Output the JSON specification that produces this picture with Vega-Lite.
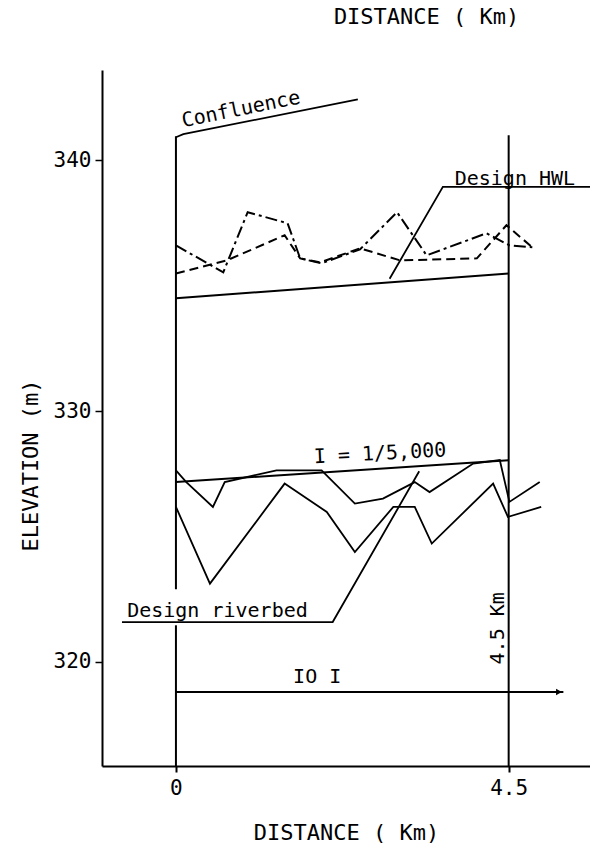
{
  "$schema": "https://vega.github.io/schema/vega-lite/v6.json",
  "autosize": {"type": "none"},
  "width": 488,
  "height": 696,
  "padding": {"left": 102, "top": 70, "right": 0, "bottom": 83},
  "background": "white",
  "config": {"view": {"stroke": null}},
  "datasets": {
    "verts": [
      {"x": 0, "y": 340.96, "y2": 322.9},
      {"x": 0, "y": 321.46, "y2": 315.85},
      {"x": 4.5, "y": 341.0, "y2": 315.85}
    ],
    "conf": [{"x": 0, "y": 340.92}, {"x": 0.1, "y": 341.04}, {"x": 2.46, "y": 342.43}],
    "hwl": [{"x": 0, "y": 334.5}, {"x": 4.5, "y": 335.49}],
    "bed": [{"x": 0, "y": 327.17}, {"x": 4.5, "y": 328.04}],
    "wl1": [
      {"x": 0, "y": 336.61}, {"x": 0.64, "y": 335.53}, {"x": 0.97, "y": 337.93},
      {"x": 1.51, "y": 337.49}, {"x": 1.68, "y": 336.09}, {"x": 1.97, "y": 335.89},
      {"x": 2.49, "y": 336.45}, {"x": 2.99, "y": 337.93}, {"x": 3.39, "y": 336.21},
      {"x": 4.2, "y": 337.09}, {"x": 4.51, "y": 336.61}, {"x": 4.82, "y": 336.53}
    ],
    "wl2": [
      {"x": 0, "y": 335.49}, {"x": 0.69, "y": 336.01}, {"x": 1.47, "y": 337.01},
      {"x": 1.68, "y": 336.09}, {"x": 1.95, "y": 335.93}, {"x": 2.49, "y": 336.49},
      {"x": 3.03, "y": 336.01}, {"x": 4.07, "y": 336.09}, {"x": 4.47, "y": 337.41},
      {"x": 4.82, "y": 336.53}
    ],
    "rb1": [
      {"x": 0, "y": 327.64}, {"x": 0.14, "y": 327.17}, {"x": 0.5, "y": 326.18},
      {"x": 0.66, "y": 327.17}, {"x": 1.36, "y": 327.64}, {"x": 1.97, "y": 327.64},
      {"x": 2.42, "y": 326.31}, {"x": 2.8, "y": 326.51}, {"x": 3.23, "y": 327.17},
      {"x": 3.43, "y": 326.77}, {"x": 4.02, "y": 327.91}, {"x": 4.38, "y": 328.05},
      {"x": 4.51, "y": 326.38}, {"x": 4.92, "y": 327.17}
    ],
    "rb2": [
      {"x": 0, "y": 326.18}, {"x": 0.46, "y": 323.12}, {"x": 1.47, "y": 327.11},
      {"x": 2.04, "y": 325.98}, {"x": 2.42, "y": 324.38}, {"x": 2.94, "y": 326.18},
      {"x": 3.23, "y": 326.18}, {"x": 3.46, "y": 324.72}, {"x": 4.29, "y": 327.11},
      {"x": 4.49, "y": 325.78}, {"x": 4.94, "y": 326.18}
    ],
    "leadHwl": [{"x": 2.89, "y": 335.28}, {"x": 3.61, "y": 338.94}, {"x": 5.6, "y": 338.94}],
    "leadBed": [{"x": -0.73, "y": 321.59}, {"x": 2.12, "y": 321.59}, {"x": 3.29, "y": 327.6}],
    "arrow": [{"x": 0, "y": 318.8}, {"x": 5.24, "y": 318.8}],
    "arrowHead": [{"x": 5.18, "y": 318.8}],
    "txtConf": [{"x": 0.88, "y": 342.03, "label": "Confluence"}],
    "txtLeft": [
      {"x": 3.77, "y": 339.0, "label": "Design  HWL"},
      {"x": -0.66, "y": 321.78, "label": "Design  riverbed"}
    ],
    "txtSlope": [{"x": 2.76, "y": 328.3, "label": "I = 1/5,000"}],
    "txtKm": [{"x": 4.36, "y": 321.34, "label": "4.5 Km"}],
    "txtIO": [{"x": 1.91, "y": 319.39, "label": "IO I"}],
    "txtTop": [{"x": 3.39, "y": 345.45, "label": "DISTANCE ( Km)"}]
  },
  "encoding": {
    "x": {
      "field": "x", "type": "quantitative",
      "scale": {"domain": [-1, 5.6], "nice": false, "zero": false},
      "axis": {
        "values": [0, 4.5], "format": ".1~f", "title": "DISTANCE ( Km)", "grid": false,
        "domainColor": "black", "domainWidth": 2, "tickColor": "black", "tickWidth": 2, "tickSize": 6,
        "labelFont": "DejaVu Sans Mono", "labelFontSize": 21, "labelColor": "black", "labelPadding": 5,
        "titleFont": "DejaVu Sans Mono", "titleFontSize": 22, "titleFontWeight": "normal", "titleColor": "black",
        "titleY": 66, "titleBaseline": "middle"
      }
    },
    "y": {
      "field": "y", "type": "quantitative",
      "scale": {"domain": [315.85, 343.6], "nice": false, "zero": false},
      "axis": {
        "values": [320, 330, 340], "title": "ELEVATION  (m)", "grid": false,
        "domainColor": "black", "domainWidth": 2, "tickColor": "black", "tickWidth": 1.5, "tickSize": 7,
        "labelFont": "DejaVu Sans Mono", "labelFontSize": 21, "labelColor": "black", "labelPadding": 4,
        "titleFont": "DejaVu Sans Mono", "titleFontSize": 22, "titleFontWeight": "normal", "titleColor": "black",
        "titleX": -72, "titleY": 395, "titleBaseline": "middle", "titleAlign": "center", "titleAngle": -90
      }
    }
  },
  "layer": [
    {"data": {"name": "verts"}, "mark": {"type": "rule", "color": "black", "strokeWidth": 2}, "encoding": {"y2": {"field": "y2"}}},
    {"data": {"name": "conf"}, "mark": {"type": "line", "color": "black", "strokeWidth": 1.8}},
    {"data": {"name": "hwl"}, "mark": {"type": "line", "color": "black", "strokeWidth": 2}},
    {"data": {"name": "bed"}, "mark": {"type": "line", "color": "black", "strokeWidth": 2}},
    {"data": {"name": "wl1"}, "mark": {"type": "line", "color": "black", "strokeWidth": 2, "strokeDash": [12, 4, 3, 4]}},
    {"data": {"name": "wl2"}, "mark": {"type": "line", "color": "black", "strokeWidth": 2, "strokeDash": [9, 5]}},
    {"data": {"name": "rb1"}, "mark": {"type": "line", "color": "black", "strokeWidth": 1.8}},
    {"data": {"name": "rb2"}, "mark": {"type": "line", "color": "black", "strokeWidth": 1.8}},
    {"data": {"name": "leadHwl"}, "mark": {"type": "line", "color": "black", "strokeWidth": 1.8}},
    {"data": {"name": "leadBed"}, "mark": {"type": "line", "color": "black", "strokeWidth": 1.8}},
    {"data": {"name": "arrow"}, "mark": {"type": "line", "color": "black", "strokeWidth": 1.8}},
    {"data": {"name": "arrowHead"}, "mark": {"type": "point", "shape": "triangle-right", "filled": true, "color": "black", "size": 45, "opacity": 1}},
    {"data": {"name": "txtConf"}, "mark": {"type": "text", "font": "DejaVu Sans Mono", "fontSize": 20, "angle": -11.5, "align": "center", "baseline": "middle", "color": "black"}, "encoding": {"text": {"field": "label"}}},
    {"data": {"name": "txtLeft"}, "mark": {"type": "text", "font": "DejaVu Sans Mono", "fontSize": 20, "align": "left", "baseline": "alphabetic", "color": "black"}, "encoding": {"text": {"field": "label"}}},
    {"data": {"name": "txtSlope"}, "mark": {"type": "text", "font": "DejaVu Sans Mono", "fontSize": 20, "angle": -3, "align": "center", "baseline": "middle", "color": "black"}, "encoding": {"text": {"field": "label"}}},
    {"data": {"name": "txtKm"}, "mark": {"type": "text", "font": "DejaVu Sans Mono", "fontSize": 20, "angle": -90, "align": "center", "baseline": "middle", "color": "black"}, "encoding": {"text": {"field": "label"}}},
    {"data": {"name": "txtIO"}, "mark": {"type": "text", "font": "DejaVu Sans Mono", "fontSize": 20, "align": "center", "baseline": "middle", "color": "black"}, "encoding": {"text": {"field": "label"}}},
    {"data": {"name": "txtTop"}, "mark": {"type": "text", "font": "DejaVu Sans Mono", "fontSize": 22, "align": "center", "baseline": "alphabetic", "color": "black"}, "encoding": {"text": {"field": "label"}}}
  ]
}
